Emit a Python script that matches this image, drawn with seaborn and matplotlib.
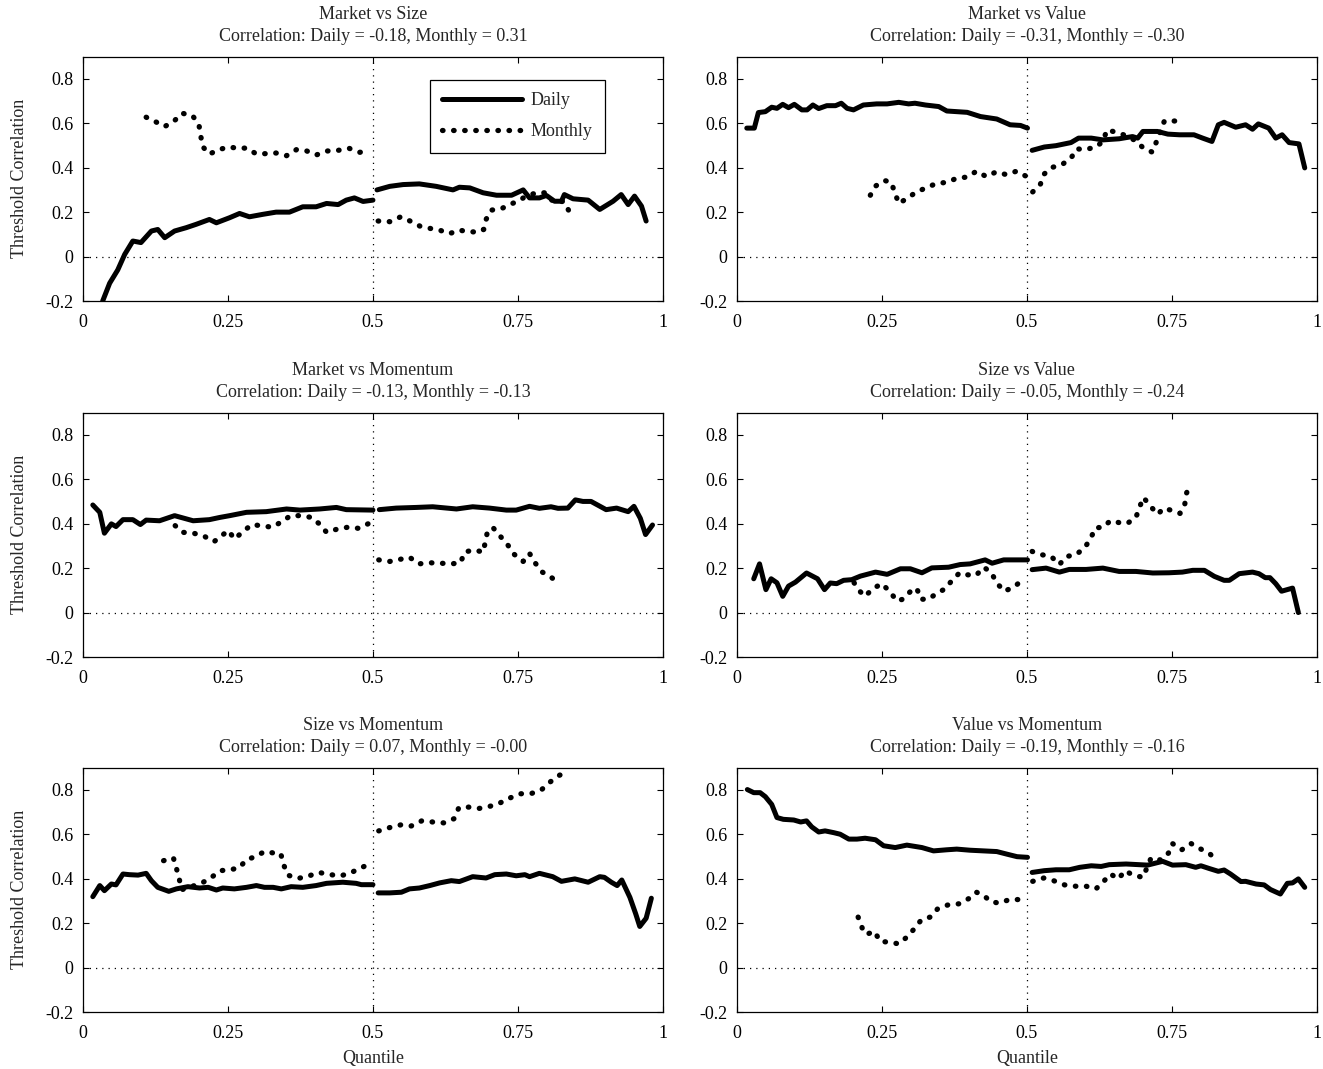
import matplotlib
matplotlib.use("Agg")
import matplotlib.pyplot as plt
import seaborn as sns

sns.set_style("ticks")
plt.rcParams["font.family"] = ["Liberation Serif", "DejaVu Serif"]
plt.rcParams["axes.unicode_minus"] = False
plt.rcParams["font.size"] = 13

# panel titles and headline correlations
pairs = ["Market vs Size", "Market vs Value", "Market vs Momentum",
         "Size vs Value", "Size vs Momentum", "Value vs Momentum"]
corr_daily = ["-0.18", "-0.31", "-0.13", "-0.05", "0.07", "-0.19"]
corr_monthly = ["0.31", "-0.30", "-0.13", "-0.24", "-0.00", "-0.16"]

# threshold correlations, (quantile, value), lower half / upper half
mkt_size_daily_lo = [(0.034, -0.2), (0.046, -0.12), (0.06, -0.06), (0.072, 0.01), (0.086, 0.07),
                     (0.1, 0.063), (0.118, 0.115), (0.129, 0.122), (0.141, 0.085), (0.158, 0.115),
                     (0.178, 0.13), (0.195, 0.145), (0.218, 0.167), (0.23, 0.152), (0.253, 0.175),
                     (0.27, 0.194), (0.287, 0.179), (0.31, 0.19), (0.333, 0.2), (0.356, 0.2),
                     (0.379, 0.224), (0.402, 0.224), (0.42, 0.239), (0.44, 0.234), (0.454, 0.254),
                     (0.468, 0.264), (0.483, 0.248), (0.5, 0.254)]
mkt_size_daily_hi = [(0.507, 0.30), (0.529, 0.316), (0.552, 0.324), (0.58, 0.327), (0.609, 0.316),
                     (0.638, 0.30), (0.649, 0.312), (0.667, 0.309), (0.69, 0.287), (0.713, 0.276),
                     (0.739, 0.276), (0.759, 0.30), (0.77, 0.264), (0.787, 0.264), (0.799, 0.275),
                     (0.813, 0.249), (0.825, 0.249), (0.83, 0.279), (0.845, 0.26), (0.871, 0.254),
                     (0.891, 0.212), (0.914, 0.249), (0.928, 0.279), (0.94, 0.234), (0.951, 0.272),
                     (0.963, 0.227), (0.971, 0.16)]
mkt_size_monthly_lo = [(0.109, 0.627), (0.125, 0.607), (0.141, 0.585), (0.158, 0.612), (0.171, 0.645),
                       (0.189, 0.634), (0.2, 0.593), (0.203, 0.543), (0.207, 0.493), (0.218, 0.461),
                       (0.234, 0.481), (0.251, 0.493), (0.266, 0.488), (0.283, 0.488), (0.298, 0.463),
                       (0.315, 0.463), (0.333, 0.466), (0.351, 0.454), (0.368, 0.481), (0.386, 0.475),
                       (0.402, 0.457), (0.421, 0.475), (0.44, 0.478), (0.459, 0.487), (0.477, 0.469),
                       (0.495, 0.478)]
mkt_size_monthly_hi = [(0.509, 0.16), (0.529, 0.157), (0.548, 0.179), (0.564, 0.16), (0.581, 0.137),
                       (0.598, 0.127), (0.616, 0.118), (0.632, 0.103), (0.648, 0.119), (0.666, 0.112),
                       (0.682, 0.11), (0.691, 0.122), (0.695, 0.167), (0.704, 0.209), (0.721, 0.215),
                       (0.736, 0.234), (0.752, 0.252), (0.764, 0.272), (0.782, 0.287), (0.798, 0.287),
                       (0.81, 0.249), (0.821, 0.245), (0.828, 0.249), (0.836, 0.215), (0.845, 0.167)]

mkt_value_daily_lo = [(0.017, 0.578), (0.03, 0.578), (0.037, 0.648), (0.049, 0.652), (0.06, 0.672),
                      (0.069, 0.667), (0.079, 0.685), (0.089, 0.67), (0.099, 0.685), (0.112, 0.66),
                      (0.121, 0.66), (0.131, 0.682), (0.141, 0.666), (0.155, 0.679), (0.17, 0.679),
                      (0.18, 0.69), (0.19, 0.667), (0.201, 0.66), (0.218, 0.682), (0.241, 0.687),
                      (0.259, 0.687), (0.279, 0.694), (0.296, 0.687), (0.307, 0.69), (0.325, 0.682),
                      (0.348, 0.675), (0.362, 0.655), (0.397, 0.649), (0.42, 0.63), (0.448, 0.619),
                      (0.471, 0.593), (0.489, 0.59), (0.501, 0.578)]
mkt_value_daily_hi = [(0.509, 0.478), (0.53, 0.493), (0.55, 0.499), (0.576, 0.513), (0.589, 0.533),
                      (0.611, 0.533), (0.631, 0.525), (0.659, 0.53), (0.682, 0.54), (0.691, 0.533),
                      (0.7, 0.563), (0.725, 0.563), (0.743, 0.551), (0.763, 0.548), (0.788, 0.548),
                      (0.803, 0.533), (0.819, 0.518), (0.83, 0.593), (0.84, 0.604), (0.86, 0.582),
                      (0.877, 0.593), (0.889, 0.573), (0.899, 0.597), (0.917, 0.578), (0.929, 0.533),
                      (0.94, 0.548), (0.952, 0.513), (0.969, 0.507), (0.979, 0.399)]
mkt_value_monthly_lo = [(0.23, 0.276), (0.24, 0.319), (0.255, 0.342), (0.266, 0.334), (0.272, 0.29),
                        (0.279, 0.239), (0.293, 0.261), (0.309, 0.29), (0.326, 0.309), (0.343, 0.328),
                        (0.361, 0.334), (0.379, 0.352), (0.397, 0.358), (0.413, 0.384), (0.43, 0.36),
                        (0.447, 0.381), (0.464, 0.369), (0.482, 0.384), (0.499, 0.361)]
mkt_value_monthly_hi = [(0.51, 0.291), (0.523, 0.324), (0.53, 0.372), (0.543, 0.401), (0.56, 0.413),
                        (0.576, 0.443), (0.586, 0.485), (0.6, 0.481), (0.619, 0.493), (0.631, 0.518),
                        (0.638, 0.57), (0.653, 0.56), (0.67, 0.545), (0.687, 0.522), (0.701, 0.488),
                        (0.716, 0.47), (0.724, 0.521), (0.737, 0.61), (0.755, 0.61)]

mkt_mom_daily_lo = [(0.017, 0.484), (0.029, 0.451), (0.037, 0.357), (0.049, 0.399), (0.057, 0.387),
                    (0.069, 0.418), (0.086, 0.418), (0.099, 0.396), (0.109, 0.416), (0.132, 0.413),
                    (0.158, 0.436), (0.19, 0.413), (0.218, 0.418), (0.236, 0.428), (0.253, 0.436),
                    (0.282, 0.451), (0.316, 0.454), (0.351, 0.466), (0.374, 0.461), (0.408, 0.466),
                    (0.437, 0.473), (0.454, 0.463), (0.5, 0.461)]
mkt_mom_daily_hi = [(0.511, 0.463), (0.54, 0.47), (0.575, 0.473), (0.603, 0.476), (0.644, 0.466),
                    (0.672, 0.476), (0.701, 0.47), (0.73, 0.461), (0.747, 0.461), (0.77, 0.478),
                    (0.787, 0.469), (0.807, 0.476), (0.819, 0.469), (0.836, 0.47), (0.849, 0.507),
                    (0.862, 0.5), (0.876, 0.5), (0.902, 0.463), (0.92, 0.47), (0.94, 0.454),
                    (0.95, 0.478), (0.961, 0.424), (0.97, 0.351), (0.982, 0.394)]
mkt_mom_monthly_lo = [(0.159, 0.391), (0.172, 0.361), (0.191, 0.357), (0.21, 0.342), (0.226, 0.319),
                      (0.239, 0.346), (0.251, 0.369), (0.261, 0.331), (0.276, 0.364), (0.291, 0.396),
                      (0.309, 0.39), (0.326, 0.384), (0.343, 0.409), (0.358, 0.436), (0.376, 0.436),
                      (0.394, 0.428), (0.409, 0.396), (0.42, 0.361), (0.439, 0.376), (0.457, 0.384),
                      (0.475, 0.379), (0.493, 0.401)]
mkt_mom_monthly_hi = [(0.51, 0.237), (0.529, 0.23), (0.546, 0.239), (0.563, 0.249), (0.579, 0.219),
                      (0.598, 0.224), (0.617, 0.222), (0.635, 0.219), (0.651, 0.224), (0.658, 0.272),
                      (0.674, 0.282), (0.69, 0.272), (0.694, 0.321), (0.698, 0.372), (0.708, 0.379),
                      (0.721, 0.339), (0.733, 0.302), (0.744, 0.261), (0.759, 0.23), (0.77, 0.266),
                      (0.78, 0.222), (0.792, 0.182), (0.807, 0.16), (0.821, 0.127)]

size_value_daily_lo = [(0.029, 0.152), (0.039, 0.219), (0.05, 0.103), (0.059, 0.152), (0.069, 0.134),
                       (0.079, 0.073), (0.089, 0.119), (0.101, 0.137), (0.12, 0.178), (0.139, 0.152),
                       (0.151, 0.103), (0.161, 0.133), (0.172, 0.13), (0.184, 0.145), (0.198, 0.148),
                       (0.213, 0.164), (0.239, 0.182), (0.259, 0.172), (0.282, 0.197), (0.299, 0.197),
                       (0.319, 0.179), (0.336, 0.201), (0.365, 0.204), (0.385, 0.216), (0.402, 0.219),
                       (0.428, 0.237), (0.44, 0.222), (0.46, 0.237), (0.501, 0.237)]
size_value_daily_hi = [(0.509, 0.193), (0.533, 0.2), (0.556, 0.182), (0.573, 0.194), (0.602, 0.194),
                       (0.631, 0.2), (0.659, 0.185), (0.688, 0.185), (0.717, 0.178), (0.745, 0.179),
                       (0.768, 0.182), (0.786, 0.19), (0.806, 0.19), (0.823, 0.163), (0.84, 0.145),
                       (0.849, 0.145), (0.866, 0.175), (0.889, 0.182), (0.9, 0.175), (0.911, 0.157),
                       (0.919, 0.157), (0.929, 0.13), (0.939, 0.096), (0.958, 0.11), (0.968, 0.0)]
size_value_monthly_lo = [(0.202, 0.134), (0.213, 0.093), (0.221, 0.073), (0.234, 0.107), (0.25, 0.13),
                         (0.264, 0.093), (0.276, 0.052), (0.286, 0.06), (0.3, 0.097), (0.31, 0.11),
                         (0.317, 0.06), (0.33, 0.06), (0.344, 0.085), (0.359, 0.107), (0.371, 0.145),
                         (0.384, 0.179), (0.397, 0.17), (0.412, 0.167), (0.426, 0.204), (0.439, 0.178),
                         (0.448, 0.133), (0.461, 0.096), (0.478, 0.115), (0.493, 0.149)]
size_value_monthly_hi = [(0.509, 0.275), (0.526, 0.26), (0.542, 0.252), (0.556, 0.216), (0.568, 0.252),
                         (0.585, 0.261), (0.6, 0.293), (0.61, 0.334), (0.618, 0.381), (0.631, 0.384),
                         (0.644, 0.413), (0.662, 0.403), (0.673, 0.401), (0.688, 0.428), (0.694, 0.473),
                         (0.701, 0.518), (0.713, 0.478), (0.726, 0.442), (0.735, 0.469), (0.748, 0.461),
                         (0.764, 0.446), (0.772, 0.484), (0.775, 0.536), (0.782, 0.581)]

size_mom_daily_lo = [(0.017, 0.319), (0.029, 0.369), (0.037, 0.346), (0.049, 0.376), (0.057, 0.372),
                     (0.069, 0.421), (0.08, 0.418), (0.095, 0.416), (0.109, 0.424), (0.118, 0.391),
                     (0.129, 0.361), (0.148, 0.343), (0.161, 0.354), (0.181, 0.364), (0.201, 0.358),
                     (0.216, 0.361), (0.23, 0.349), (0.241, 0.358), (0.261, 0.354), (0.282, 0.361),
                     (0.299, 0.369), (0.313, 0.361), (0.328, 0.361), (0.342, 0.354), (0.359, 0.364),
                     (0.379, 0.361), (0.402, 0.369), (0.42, 0.379), (0.448, 0.384), (0.471, 0.379),
                     (0.48, 0.373), (0.5, 0.373)]
size_mom_daily_hi = [(0.509, 0.336), (0.529, 0.336), (0.549, 0.339), (0.563, 0.354), (0.58, 0.358),
                     (0.598, 0.369), (0.615, 0.381), (0.635, 0.391), (0.649, 0.387), (0.672, 0.409),
                     (0.695, 0.403), (0.71, 0.418), (0.73, 0.421), (0.747, 0.413), (0.762, 0.418),
                     (0.77, 0.409), (0.787, 0.424), (0.81, 0.409), (0.825, 0.388), (0.848, 0.399),
                     (0.871, 0.384), (0.891, 0.409), (0.899, 0.406), (0.911, 0.384), (0.921, 0.369),
                     (0.929, 0.394), (0.943, 0.316), (0.953, 0.242), (0.96, 0.185), (0.971, 0.222),
                     (0.98, 0.312)]
size_mom_monthly_lo = [(0.139, 0.481), (0.156, 0.493), (0.161, 0.448), (0.166, 0.399), (0.17, 0.35),
                       (0.204, 0.379), (0.22, 0.403), (0.237, 0.436), (0.253, 0.44), (0.269, 0.448),
                       (0.282, 0.485), (0.297, 0.499), (0.313, 0.522), (0.33, 0.515), (0.341, 0.513),
                       (0.346, 0.463), (0.353, 0.416), (0.371, 0.401), (0.389, 0.412), (0.407, 0.428),
                       (0.426, 0.418), (0.445, 0.413), (0.463, 0.428), (0.481, 0.451), (0.498, 0.469)]
size_mom_monthly_hi = [(0.51, 0.615), (0.529, 0.63), (0.548, 0.642), (0.566, 0.637), (0.584, 0.66),
                       (0.603, 0.655), (0.622, 0.651), (0.64, 0.67), (0.648, 0.719), (0.665, 0.722),
                       (0.683, 0.716), (0.701, 0.725), (0.72, 0.742), (0.737, 0.764), (0.755, 0.782),
                       (0.774, 0.784), (0.791, 0.801), (0.806, 0.836), (0.822, 0.866), (0.839, 0.876)]

value_mom_daily_lo = [(0.018, 0.801), (0.029, 0.787), (0.04, 0.787), (0.049, 0.769), (0.06, 0.734),
                      (0.069, 0.675), (0.08, 0.667), (0.098, 0.664), (0.11, 0.655), (0.12, 0.66),
                      (0.129, 0.633), (0.141, 0.61), (0.152, 0.615), (0.167, 0.607), (0.178, 0.6),
                      (0.193, 0.578), (0.207, 0.578), (0.221, 0.582), (0.239, 0.575), (0.253, 0.548),
                      (0.273, 0.54), (0.293, 0.551), (0.319, 0.54), (0.339, 0.525), (0.362, 0.53),
                      (0.379, 0.533), (0.402, 0.528), (0.425, 0.525), (0.448, 0.522), (0.466, 0.51),
                      (0.483, 0.499), (0.501, 0.496)]
value_mom_daily_hi = [(0.509, 0.428), (0.53, 0.436), (0.55, 0.44), (0.573, 0.44), (0.591, 0.451),
                      (0.611, 0.458), (0.628, 0.455), (0.642, 0.463), (0.671, 0.466), (0.708, 0.461),
                      (0.734, 0.478), (0.751, 0.461), (0.774, 0.463), (0.791, 0.451), (0.8, 0.458),
                      (0.814, 0.446), (0.83, 0.433), (0.84, 0.439), (0.851, 0.421), (0.869, 0.387),
                      (0.877, 0.388), (0.895, 0.376), (0.909, 0.372), (0.92, 0.351), (0.937, 0.331),
                      (0.949, 0.379), (0.958, 0.381), (0.968, 0.399), (0.979, 0.361)]
value_mom_monthly_lo = [(0.209, 0.227), (0.216, 0.178), (0.223, 0.149), (0.237, 0.163), (0.247, 0.118),
                        (0.259, 0.115), (0.279, 0.107), (0.293, 0.137), (0.306, 0.175), (0.318, 0.215),
                        (0.333, 0.227), (0.346, 0.264), (0.364, 0.282), (0.383, 0.287), (0.401, 0.312),
                        (0.413, 0.339), (0.426, 0.324), (0.437, 0.297), (0.452, 0.29), (0.47, 0.306),
                        (0.489, 0.306)]
value_mom_monthly_hi = [(0.51, 0.388), (0.529, 0.403), (0.546, 0.391), (0.565, 0.372), (0.584, 0.366),
                        (0.602, 0.366), (0.619, 0.354), (0.632, 0.387), (0.644, 0.421), (0.658, 0.399),
                        (0.669, 0.436), (0.683, 0.416), (0.7, 0.406), (0.714, 0.493), (0.731, 0.484),
                        (0.744, 0.515), (0.751, 0.558), (0.767, 0.53), (0.783, 0.558), (0.8, 0.533),
                        (0.815, 0.513), (0.829, 0.476)]

daily_series = [
    (mkt_size_daily_lo, mkt_size_daily_hi), (mkt_value_daily_lo, mkt_value_daily_hi),
    (mkt_mom_daily_lo, mkt_mom_daily_hi), (size_value_daily_lo, size_value_daily_hi),
    (size_mom_daily_lo, size_mom_daily_hi), (value_mom_daily_lo, value_mom_daily_hi),
]
monthly_series = [
    (mkt_size_monthly_lo, mkt_size_monthly_hi), (mkt_value_monthly_lo, mkt_value_monthly_hi),
    (mkt_mom_monthly_lo, mkt_mom_monthly_hi), (size_value_monthly_lo, size_value_monthly_hi),
    (size_mom_monthly_lo, size_mom_monthly_hi), (value_mom_monthly_lo, value_mom_monthly_hi),
]

fig = plt.figure(figsize=(13.23, 10.69), dpi=100)
lefts = [0.0627, 0.557]
bottoms = [0.7184, 0.3854, 0.0533]
w, h = 0.4384, 0.2287
dot_style = (0, (0.1, 2.0))

for i in range(6):
    r, c = divmod(i, 2)
    ax = fig.add_axes([lefts[c], bottoms[r], w, h])
    ax.axhline(0, color="k", lw=0.9, ls=(0, (1, 4)))
    ax.axvline(0.5, color="k", lw=0.9, ls=(0, (1, 4)))
    for k, seg in enumerate(daily_series[i]):
        xs, ys = zip(*seg)
        sns.lineplot(x=list(xs), y=list(ys), ax=ax, color="k", lw=3.6, sort=False,
                     solid_capstyle="round", solid_joinstyle="round",
                     label="Daily" if (i == 0 and k == 0) else None)
    for k, seg in enumerate(monthly_series[i]):
        xs, ys = zip(*seg)
        sns.lineplot(x=list(xs), y=list(ys), ax=ax, color="k", lw=3.8, sort=False,
                     linestyle=dot_style, dash_capstyle="round",
                     label="Monthly" if (i == 0 and k == 0) else None)

    ax.set_xlim(0, 1)
    ax.set_ylim(-0.2, 0.9)
    ax.set_xticks([0, 0.25, 0.5, 0.75, 1])
    ax.set_xticklabels(["0", "0.25", "0.5", "0.75", "1"])
    ax.set_yticks([-0.2, 0, 0.2, 0.4, 0.6, 0.8])
    ax.set_yticklabels(["-0.2", "0", "0.2", "0.4", "0.6", "0.8"])
    ax.tick_params(direction="in", top=True, right=True, length=4, width=0.8,
                   labelsize=13, colors="k")
    ax.tick_params(axis="x", pad=9)
    ax.tick_params(axis="y", pad=7)
    for sp in ax.spines.values():
        sp.set_color("k")
        sp.set_linewidth(0.9)
    ax.set_title(f"{pairs[i]}\nCorrelation: Daily = {corr_daily[i]}, Monthly = {corr_monthly[i]}",
                 fontsize=13, pad=11, linespacing=1.4)
    ax.set_xlabel("Quantile" if r == 2 else "", fontsize=13, labelpad=6)
    ax.set_ylabel("Threshold Correlation" if c == 0 else "", fontsize=13, labelpad=12)

    if i == 0:
        leg = ax.legend(loc="upper left", bbox_to_anchor=(0.598, 0.905), fontsize=13,
                        handlelength=4.4, handletextpad=0.5, labelspacing=0.75,
                        fancybox=False, edgecolor="k", framealpha=1, borderpad=0.7,
                        borderaxespad=0)
        leg.get_frame().set_linewidth(0.9)
    else:
        lg = ax.get_legend()
        if lg is not None:
            lg.remove()

fig.savefig("out.png", dpi=100)
